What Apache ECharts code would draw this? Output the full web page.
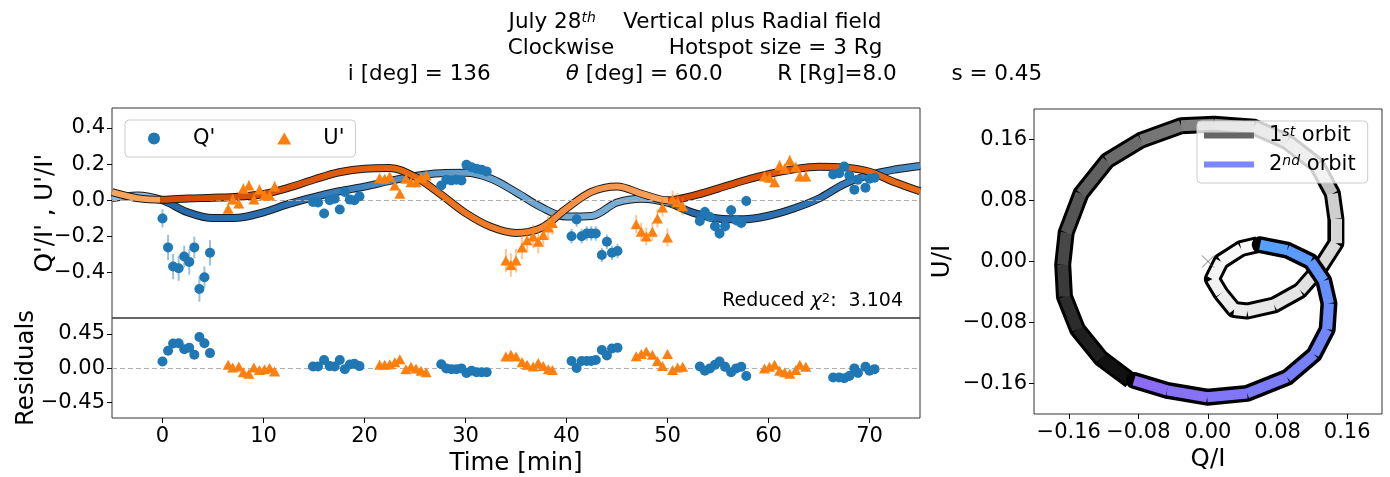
<!DOCTYPE html>
<html>
<head>
<meta charset="utf-8">
<script src="https://cdn.jsdelivr.net/npm/echarts@6.0.0/dist/echarts.min.js"></script>
<style>
html, body { margin: 0; padding: 0; background: #fff; }
#chart { width: 1390px; height: 477px; }
</style>
</head>
<body>
<div id="chart"></div>
<script>
var FONT = 'DejaVu Sans';

// observed Q'/I' points (time in min)
var qTime = [0.0, 0.55, 1.05, 1.6, 2.15, 2.65, 3.15, 3.65, 4.15, 4.7,
             14.9, 15.4, 16.0, 16.55, 17.05, 17.55, 18.05, 18.55, 19.0, 19.5,
             27.6, 28.1, 28.6, 29.1, 29.6, 30.1, 30.6, 31.1, 31.6, 32.1,
             40.5, 41.0, 41.5, 42.0, 42.45, 42.9, 43.5, 44.0, 44.5, 45.05,
             53.2, 53.7, 54.2, 54.7, 55.15, 55.7, 56.3, 56.8, 57.3, 57.8,
             66.4, 67.0, 67.5, 68.0, 68.5, 68.85, 69.6, 70.0, 70.5];
var qVal = [-0.10, -0.26, -0.366, -0.375, -0.31, -0.34, -0.26, -0.49, -0.425, -0.29,
            -0.009, -0.012, -0.073, 0.0, 0.009, -0.051, 0.046, 0.004, 0.0, 0.022,
            0.082, 0.114, 0.11, 0.114, 0.11, 0.196, 0.183, 0.174, 0.169, 0.159,
            -0.198, -0.106, -0.198, -0.183, -0.183, -0.183, -0.302, -0.229, -0.29, -0.28,
            -0.114, -0.064, -0.092, -0.143, -0.183, -0.143, -0.055, -0.11, -0.125, -0.004,
            0.143, 0.15, 0.187, 0.137, 0.059, 0.114, 0.07, 0.119, 0.125];
var qErr = [0.05, 0.07, 0.07, 0.07, 0.06, 0.07, 0.06, 0.07, 0.06, 0.07,
            0.02, 0.02, 0.02, 0.02, 0.02, 0.02, 0.02, 0.02, 0.02, 0.02,
            0.015, 0.015, 0.015, 0.015, 0.015, 0.015, 0.015, 0.015, 0.015, 0.015,
            0.04, 0.04, 0.04, 0.04, 0.04, 0.04, 0.04, 0.04, 0.04, 0.04,
            0.03, 0.03, 0.03, 0.03, 0.03, 0.03, 0.03, 0.03, 0.03, 0.03,
            0.02, 0.02, 0.02, 0.02, 0.02, 0.02, 0.02, 0.02, 0.02];
var qRes = [0.09, 0.23, 0.325, 0.33, 0.25, 0.27, 0.18, 0.41, 0.33, 0.2,
            0.025, 0.025, 0.11, 0.03, 0.025, 0.11, -0.01, 0.05, 0.06, 0.03,
            0.054, 0.0, -0.01, -0.01, 0.0, -0.06, -0.03, -0.05, -0.05, -0.05,
            0.096, 0.004, 0.096, 0.096, 0.096, 0.11, 0.24, 0.17, 0.26, 0.27,
            0.025, -0.03, 0.0, 0.046, 0.09, 0.02, -0.05, 0.0, 0.02, -0.1,
            -0.12, -0.12, -0.13, -0.1, 0.0, -0.06, 0.02, -0.03, -0.01];

// observed U'/I' points
var uTime = [6.5, 6.95, 7.55, 8.0, 8.55, 9.05, 9.6, 10.1, 10.6, 11.1,
             21.5, 22.0, 22.5, 23.0, 23.5, 24.1, 24.6, 25.1, 25.6, 26.1,
             34.0, 34.5, 35.0, 35.6, 36.1, 36.7, 37.2, 37.7, 38.2, 38.6,
             46.9, 47.4, 47.9, 48.5, 49.0, 49.5, 50.0, 50.5, 51.0, 51.5,
             59.6, 60.1, 60.6, 61.1, 61.6, 62.1, 62.7, 63.1, 63.7];
var uVal = [-0.046, 0.004, -0.018, 0.064, 0.082, 0.004, 0.059, 0.027, 0.027, 0.077,
            0.123, 0.119, 0.132, 0.082, 0.037, 0.119, 0.10, 0.10, 0.125, 0.137,
            -0.333, -0.357, -0.333, -0.26, -0.22, -0.20, -0.229, -0.192, -0.15, -0.125,
            -0.132, -0.174, -0.20, -0.174, -0.10, -0.04, -0.205, 0.004, -0.009, -0.033,
            0.132, 0.125, 0.10, 0.192, 0.174, 0.22, 0.183, 0.132, 0.132];
var uErr = [0.03, 0.03, 0.03, 0.03, 0.03, 0.03, 0.03, 0.03, 0.03, 0.03,
            0.02, 0.02, 0.02, 0.02, 0.02, 0.02, 0.02, 0.02, 0.02, 0.02,
            0.065, 0.065, 0.065, 0.065, 0.065, 0.065, 0.065, 0.065, 0.065, 0.065,
            0.05, 0.05, 0.05, 0.05, 0.05, 0.05, 0.05, 0.05, 0.05, 0.05,
            0.03, 0.03, 0.03, 0.03, 0.03, 0.03, 0.03, 0.03, 0.03];
var uRes = [0.046, 0.012, 0.025, -0.05, -0.07, 0.01, -0.02, -0.01, 0.004, -0.04,
            0.046, 0.046, 0.054, 0.08, 0.12, -0.01, 0.02, 0.0, -0.03, -0.05,
            0.155, 0.18, 0.155, 0.08, 0.046, 0.025, 0.07, 0.03, -0.01, -0.02,
            0.16, 0.19, 0.22, 0.18, 0.096, 0.03, 0.19, -0.02, 0.01, 0.02,
            0.0, 0.02, 0.046, -0.03, -0.05, -0.07, -0.02, 0.046, 0.02];

// model curves
var modelTime = [-5, -2.5, 0, 2.5, 5, 7.5, 10, 12.5, 15, 17.5, 20, 22.5, 25, 27.5, 30, 32.5,
                 35, 37.5, 40, 42.5, 45, 47.5, 50, 52.5, 55, 57.5, 60, 62.5, 65, 67.5, 70, 72.5, 75];
var modelQ = [0.012, 0.027, 0.0, -0.066, -0.098, -0.096, -0.066, -0.02, 0.018, 0.05, 0.076, 0.107, 0.135, 0.15, 0.152, 0.12,
              0.045, -0.038, -0.09, -0.086, -0.012, 0.009, -0.013, -0.068, -0.1, -0.105, -0.085, -0.045, 0.01, 0.09, 0.14, 0.17, 0.19];
var modelU = [0.045, 0.012, 0.003, 0.01, 0.014, 0.02, 0.035, 0.07, 0.115, 0.155, 0.175, 0.178, 0.13, 0.035, -0.07, -0.146,
              -0.18, -0.152, -0.045, 0.048, 0.077, 0.035, 0.0, 0.025, 0.065, 0.108, 0.145, 0.172, 0.186, 0.182, 0.158, 0.1, 0.05];

// tick labels
var timeTicks = [0, 10, 20, 30, 40, 50, 60, 70];
var mainTicks = [-0.4, -0.2, 0, 0.2, 0.4];
var resTicks = [-0.45, 0, 0.45];
var orbitTicks = [-0.16, -0.08, 0, 0.08, 0.16];

// Q/I - U/I track
var orbit1Q = [-0.089, -0.123, -0.15, -0.165, -0.167, -0.163, -0.146, -0.116, -0.077, -0.031, 0.007, 0.053, 0.091,
               0.125, 0.143, 0.147, 0.147, 0.129, 0.106, 0.076, 0.045, 0.03, 0.015, 0.005, 0.015, 0.038, 0.057];
var orbit1U = [-0.156, -0.127, -0.089, -0.046, -0.004, 0.038, 0.089, 0.132, 0.159, 0.178, 0.18, 0.176, 0.157,
               0.127, 0.089, 0.056, 0.024, -0.008, -0.038, -0.057, -0.065, -0.063, -0.042, -0.023, 0.0, 0.017, 0.022];
var orbit2Q = [0.06, 0.091, 0.118, 0.133, 0.139, 0.137, 0.122, 0.091, 0.045, -0.001, -0.047, -0.085];
var orbit2U = [0.022, 0.015, 0.0, -0.025, -0.055, -0.089, -0.122, -0.152, -0.173, -0.178, -0.169, -0.156];
var originMark = [0, 0];

function zip(a, b) {
  return a.map(function (v, i) { return [v, b[i]]; });
}
function fmt(d) {
  return function (v) {
    var s = Math.abs(v) < 1e-9 ? (0).toFixed(d) : v.toFixed(d);
    return s.replace('-', '\u2212');
  };
}
function timeGrad(stops) {
  return new echarts.graphic.LinearGradient(0, 0, 1, 0, stops.map(function (s) {
    return { offset: (s[0] + 5) / 80, color: s[1] };
  }));
}
function errBars(t, v, e, color) {
  return {
    type: 'custom', xAxisIndex: 0, yAxisIndex: 0, z: 8, silent: true,
    encode: { x: 0, y: [1, 2] },
    data: t.map(function (x, i) { return [x, v[i] - e[i], v[i] + e[i]]; }),
    renderItem: function (params, api) {
      var a = api.coord([api.value(0), api.value(1)]);
      var b = api.coord([api.value(0), api.value(2)]);
      return { type: 'line', shape: { x1: a[0], y1: a[1], x2: b[0], y2: b[1] },
               style: { stroke: color, lineWidth: 2 } };
    }
  };
}
function segments(qs, us, colorAt) {
  var out = [];
  for (var i = 0; i < qs.length - 1; i++) {
    out.push({ coords: [[qs[i], us[i]], [qs[i + 1], us[i + 1]]],
               lineStyle: { color: colorAt(i / (qs.length - 2)) } });
  }
  return out;
}
// grey ramp of the first orbit (dark -> white)
function grayAt(f) {
  var fx = [0, 0.2, 0.4, 0.55, 0.7, 1], gy = [17, 85, 140, 205, 228, 250];
  var k = 1;
  while (k < fx.length - 1 && f > fx[k]) k++;
  var g = Math.round(gy[k - 1] + (gy[k] - gy[k - 1]) * (f - fx[k - 1]) / (fx[k] - fx[k - 1]));
  return 'rgb(' + g + ',' + g + ',' + g + ')';
}
function blueAt(f) {
  return 'rgb(' + Math.round(85 + 55 * f) + ',' + Math.round(160 - 52 * f) + ',' + Math.round(255 - 10 * f) + ')';
}

var nameStyle = { color: '#000', fontSize: 24.5, fontFamily: FONT };

var option = {
  animation: false,
  backgroundColor: '#fff',
  textStyle: { fontFamily: FONT },
  title: [
    { text: 'July 28{sup|th}    Vertical plus Radial field', left: 'center', top: 11, padding: 0,
      textStyle: { fontSize: 21.5, fontWeight: 'normal', color: '#000', fontFamily: FONT,
        rich: { sup: { fontSize: 14, fontStyle: 'italic', fontFamily: FONT, verticalAlign: 'top', lineHeight: 14 } } } },
    { text: 'Clockwise        Hotspot size = 3 Rg', left: 'center', top: 37, padding: 0,
      textStyle: { fontSize: 21.5, fontWeight: 'normal', color: '#000', fontFamily: FONT } },
    { text: 'i [deg] = 136           {it|θ} [deg] = 60.0        R [Rg]=8.0        s = 0.45', left: 'center', top: 63, padding: 0,
      textStyle: { fontSize: 21.5, fontWeight: 'normal', color: '#000', fontFamily: FONT,
        rich: { it: { fontSize: 21.5, fontStyle: 'italic', fontFamily: FONT } } } },
    { text: 'Reduced {it|χ}{sup|2}:  3.104', right: 487, top: 292, padding: 0,
      textStyle: { fontSize: 19, fontWeight: 'normal', color: '#000', fontFamily: FONT,
        rich: { it: { fontSize: 19, fontStyle: 'italic', fontFamily: FONT },
                sup: { fontSize: 13, fontFamily: FONT, verticalAlign: 'top', lineHeight: 13 } } } }
  ],
  legend: [
    { left: 125, top: 120, itemWidth: 14, itemHeight: 12, itemGap: 62, selectedMode: false,
      padding: [8, 11, 8, 23], backgroundColor: 'rgba(255,255,255,0.8)', borderColor: '#cccccc',
      borderWidth: 1, borderRadius: 4, z: 20,
      data: [{ name: "Q'", icon: 'circle' }, { name: "U'", icon: 'triangle' }],
      textStyle: { fontSize: 21, color: '#000', fontFamily: FONT, padding: [0, 0, 0, 27] } },
    { orient: 'vertical', left: 1197, top: 121, itemWidth: 50, itemHeight: 6, itemGap: 8, selectedMode: false,
      padding: [4, 12, 8, 7], backgroundColor: 'rgba(255,255,255,0.8)', borderColor: '#cccccc',
      borderWidth: 1, borderRadius: 4, z: 20,
      data: [{ name: '1st orbit', icon: 'rect', itemStyle: { color: '#666666', borderWidth: 0 } },
             { name: '2nd orbit', icon: 'rect', itemStyle: { color: '#7b86ff', borderWidth: 0 } }],
      formatter: function (n) { return n === '1st orbit' ? '1{sup|st} orbit' : '2{sup|nd} orbit'; },
      textStyle: { fontSize: 21, color: '#000', fontFamily: FONT, padding: [0, 0, 0, 10],
        rich: { sup: { fontSize: 14, fontStyle: 'italic', fontFamily: FONT, verticalAlign: 'top', lineHeight: 14 } } } }
  ],
  grid: [
    { left: 112, top: 108, width: 808, height: 210, show: true, borderColor: '#333', borderWidth: 1 },
    { left: 112, top: 318, width: 808, height: 105, show: true, borderColor: '#333', borderWidth: 1 },
    { left: 1034, top: 109, width: 348, height: 314, show: true, borderColor: '#333', borderWidth: 1 }
  ],
  xAxis: [
    { gridIndex: 0, type: 'value', min: -5, max: 75,
      axisLine: { show: false, onZero: false }, axisTick: { show: false }, axisLabel: { show: false }, splitLine: { show: false } },
    { gridIndex: 1, type: 'value', min: -5, max: 75, name: 'Time [min]', nameLocation: 'middle', nameGap: 33,
      nameMoveOverlap: false, nameTextStyle: nameStyle,
      axisLine: { show: false, onZero: false },
      axisTick: { show: true, length: 5, customValues: timeTicks, lineStyle: { color: '#000' } },
      axisLabel: { customValues: timeTicks, margin: 8, formatter: fmt(0), color: '#000', fontSize: 21, fontFamily: FONT },
      splitLine: { show: false } },
    { gridIndex: 2, type: 'value', min: -0.2, max: 0.2, name: 'Q/I', nameLocation: 'middle', nameGap: 33,
      nameMoveOverlap: false, nameTextStyle: nameStyle,
      axisLine: { show: false, onZero: false },
      axisTick: { show: true, length: 5, customValues: orbitTicks, lineStyle: { color: '#000' } },
      axisLabel: { customValues: orbitTicks, margin: 8, formatter: fmt(2), color: '#000', fontSize: 21, fontFamily: FONT },
      splitLine: { show: false } }
  ],
  yAxis: [
    { gridIndex: 0, type: 'value', min: -0.65, max: 0.51, name: "Q'/I' , U'/I'", nameLocation: 'middle', nameGap: 54,
      nameMoveOverlap: false, nameTextStyle: nameStyle,
      axisLine: { show: false, onZero: false },
      axisTick: { show: true, length: 5, customValues: mainTicks, lineStyle: { color: '#000' } },
      axisLabel: { customValues: mainTicks, margin: 7, formatter: fmt(1), color: '#000', fontSize: 21, fontFamily: FONT },
      splitLine: { show: false } },
    { gridIndex: 1, type: 'value', min: -0.65, max: 0.66, name: 'Residuals', nameLocation: 'middle', nameGap: 73,
      nameMoveOverlap: false, nameTextStyle: nameStyle,
      axisLine: { show: false, onZero: false },
      axisTick: { show: true, length: 5, customValues: resTicks, lineStyle: { color: '#000' } },
      axisLabel: { customValues: resTicks, margin: 7, formatter: fmt(2), color: '#000', fontSize: 21, fontFamily: FONT },
      splitLine: { show: false } },
    { gridIndex: 2, type: 'value', min: -0.2, max: 0.2, name: 'U/I', nameLocation: 'middle', nameGap: 79,
      nameMoveOverlap: false, nameTextStyle: nameStyle,
      axisLine: { show: false, onZero: false },
      axisTick: { show: true, length: 5, customValues: orbitTicks, lineStyle: { color: '#000' } },
      axisLabel: { customValues: orbitTicks, margin: 7, formatter: fmt(2), color: '#000', fontSize: 21, fontFamily: FONT },
      splitLine: { show: false } }
  ],
  series: [
    // Q model: black edge then coloured band
    { name: 'Q model edge', type: 'line', xAxisIndex: 0, yAxisIndex: 0, z: 2, silent: true,
      data: zip(modelTime, modelQ), smooth: 0.35, symbol: 'none',
      lineStyle: { color: '#1a1a1a', width: 8 },
      markLine: { silent: true, symbol: 'none', label: { show: false },
        lineStyle: { color: '#b0b0b0', width: 1, type: [5, 3] }, data: [{ yAxis: 0 }] } },
    { name: 'Q model', type: 'line', xAxisIndex: 0, yAxisIndex: 0, z: 3, silent: true,
      data: zip(modelTime, modelQ), smooth: 0.35, symbol: 'none',
      lineStyle: { width: 6, color: timeGrad([[-5, '#8bbbe0'], [0, '#8bbbe0'], [0.05, '#2568aa'], [12, '#2a6fb0'],
        [22, '#4a8bc4'], [32, '#68a3d2'], [49.9, '#7cb2da'], [50, '#2568aa'], [65, '#2f74b4'], [75, '#4a8ec8']]) } },
    // U model
    { name: 'U model edge', type: 'line', xAxisIndex: 0, yAxisIndex: 0, z: 4, silent: true,
      data: zip(modelTime, modelU), smooth: 0.35, symbol: 'none',
      lineStyle: { color: '#1a1a1a', width: 8 } },
    { name: 'U model', type: 'line', xAxisIndex: 0, yAxisIndex: 0, z: 5, silent: true,
      data: zip(modelTime, modelU), smooth: 0.35, symbol: 'none',
      lineStyle: { width: 6, color: timeGrad([[-5, '#f7a35c'], [0, '#f7a35c'], [0.05, '#d54a05'], [12, '#d9520a'],
        [22, '#e4620f'], [32, '#ef7b26'], [42, '#f69249'], [49.9, '#f8a35c'], [50, '#d54a05'], [62, '#dc5608'], [75, '#ea6c18']]) } },
    errBars(qTime, qVal, qErr, 'rgba(31,119,180,0.45)'),
    errBars(uTime, uVal, uErr, 'rgba(255,127,14,0.45)'),
    { name: "Q'", type: 'scatter', xAxisIndex: 0, yAxisIndex: 0, z: 10,
      data: zip(qTime, qVal), symbol: 'circle', symbolSize: 10, itemStyle: { color: '#1f77b4', opacity: 1 } },
    { name: "U'", type: 'scatter', xAxisIndex: 0, yAxisIndex: 0, z: 10,
      data: zip(uTime, uVal), symbol: 'triangle', symbolSize: [11, 10], itemStyle: { color: '#ff7f0e', opacity: 1 } },
    // residuals
    { name: "Q' residual", type: 'scatter', xAxisIndex: 1, yAxisIndex: 1, z: 10,
      data: zip(qTime, qRes), symbol: 'circle', symbolSize: 10, itemStyle: { color: '#1f77b4', opacity: 1 },
      markLine: { silent: true, symbol: 'none', label: { show: false },
        lineStyle: { color: '#b0b0b0', width: 1, type: [5, 3] }, data: [{ yAxis: 0 }] } },
    { name: "U' residual", type: 'scatter', xAxisIndex: 1, yAxisIndex: 1, z: 10,
      data: zip(uTime, uRes), symbol: 'triangle', symbolSize: [11, 10], itemStyle: { color: '#ff7f0e', opacity: 1 } },
    // Q/I - U/I track
    { name: 'orbit 1 edge', type: 'line', xAxisIndex: 2, yAxisIndex: 2, z: 1, silent: true,
      data: zip(orbit1Q, orbit1U), symbol: 'none', lineStyle: { color: '#000', width: 17, join: 'round' } },
    { name: '1st orbit', type: 'lines', coordinateSystem: 'cartesian2d', xAxisIndex: 2, yAxisIndex: 2, z: 2, silent: true,
      data: segments(orbit1Q, orbit1U, grayAt), lineStyle: { color: '#666666', width: 11, opacity: 1, curveness: 0 } },
    { name: 'orbit 2 edge', type: 'line', xAxisIndex: 2, yAxisIndex: 2, z: 3, silent: true,
      data: zip(orbit2Q, orbit2U), symbol: 'none', lineStyle: { color: '#000', width: 17, join: 'round', cap: 'round' } },
    { name: '2nd orbit', type: 'lines', coordinateSystem: 'cartesian2d', xAxisIndex: 2, yAxisIndex: 2, z: 4, silent: true,
      data: segments(orbit2Q, orbit2U, blueAt), lineStyle: { color: '#7b86ff', width: 10, opacity: 1, curveness: 0 } },
    { name: 'origin', type: 'scatter', xAxisIndex: 2, yAxisIndex: 2, z: 5, silent: true,
      data: [originMark], symbol: 'path://M0,0L10,10M10,0L0,10', symbolSize: 12,
      itemStyle: { color: 'none', borderColor: '#555', borderWidth: 1 } }
  ]
};

var chart = echarts.init(document.getElementById('chart'));
chart.setOption(option);
</script>
</body>
</html>
